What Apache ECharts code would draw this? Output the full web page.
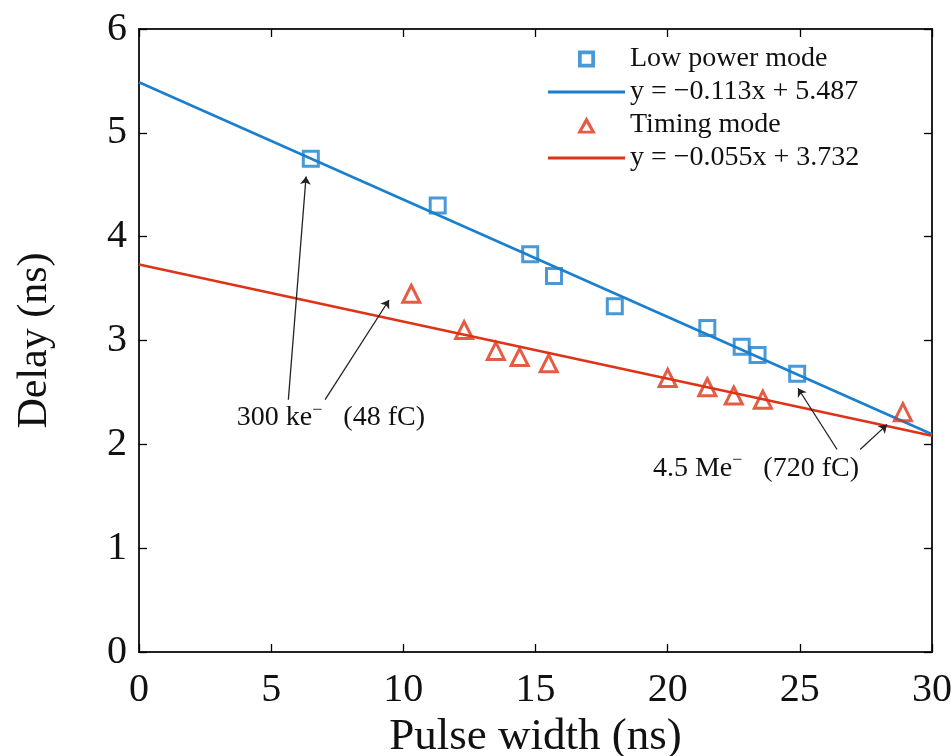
<!DOCTYPE html>
<html>
<head>
<meta charset="utf-8">
<script src="https://cdn.jsdelivr.net/npm/echarts@6/dist/echarts.min.js"></script>
<style>html,body{margin:0;padding:0;background:#fff}#c{width:951px;height:756px}</style>
</head>
<body>
<div id="c"></div>
<script>
// ---- data ----
var lowPowerX = [6.5, 11.3, 14.8, 15.7, 18.0, 21.5, 22.8, 23.4, 24.9];
var lowPowerY = [4.75, 4.30, 3.83, 3.62, 3.33, 3.12, 2.94, 2.86, 2.68];
var timingX = [10.3, 12.3, 13.5, 14.4, 15.5, 20.0, 21.5, 22.5, 23.6, 28.9];
var timingY = [3.45, 3.10, 2.90, 2.84, 2.78, 2.64, 2.55, 2.47, 2.43, 2.31];
var fitLowX = [0, 30];
var fitLowY = [5.487, 2.097];
var fitTimingX = [0, 30];
var fitTimingY = [3.732, 2.082];
var xTicks = [0, 5, 10, 15, 20, 25, 30];
var yTicks = [0, 1, 2, 3, 4, 5, 6];
var seriesNames = ['Low power mode', 'y = \u22120.113x + 5.487', 'Timing mode', 'y = \u22120.055x + 3.732'];
var annot1Text = {x: 7.26, y: 2.26};
var annot1Arrows = [[[5.65, 2.43], [6.32, 4.58]], [[7.04, 2.43], [9.46, 3.39]]];
var annot2Text = {x: 23.34, y: 1.77};
var annot2Arrows = [[[26.41, 1.95], [24.93, 2.54]], [[27.28, 1.95], [28.30, 2.19]]];

function zip(a, b) { return a.map(function (v, i) { return [v, b[i]]; }); }

var BLUE = '#1a7fcc';
var RED = '#de3316';
var FONT = 'Liberation Serif';
var TXT = '#111';

var ICON_SQUARE = 'path://M0,0 L10,0 L10,10 L0,10 Z M2.2,2.2 L2.2,7.8 L7.8,7.8 L7.8,2.2 Z';
var ICON_TRI = 'path://M5,0 L10,9 L0,9 Z M5,3.6 L2.7,7.6 L7.3,7.6 Z';
var ICON_LINE = 'path://M0,0 L100,0 L100,4 L0,4 Z';

var chart = echarts.init(document.getElementById('c'), null, {renderer: 'canvas'});

function tickStyle() { return {show: true, inside: true, length: 8, lineStyle: {color: '#000', width: 1.3}}; }
function axisLineStyle() { return {show: true, onZero: false, lineStyle: {color: '#222', width: 2}}; }

var option = {
  backgroundColor: '#fff',
  animation: false,
  grid: {left: 139, right: 19, top: 29, bottom: 104, outerBoundsMode: 'none', containLabel: false,
         show: true, borderColor: '#222', borderWidth: 2, backgroundColor: 'transparent'},
  xAxis: [{
    type: 'value', position: 'bottom', min: xTicks[0], max: xTicks[xTicks.length - 1], interval: 5,
    name: 'Pulse width (ns)', nameLocation: 'middle', nameGap: 61,
    nameTextStyle: {fontFamily: FONT, fontSize: 45, color: TXT},
    axisLine: axisLineStyle(),
    axisTick: tickStyle(),
    axisLabel: {fontFamily: FONT, fontSize: 40, color: TXT, margin: 18},
    splitLine: {show: false}
  }, {
    type: 'value', position: 'top', min: xTicks[0], max: xTicks[xTicks.length - 1], interval: 5,
    axisLine: axisLineStyle(), axisLabel: {show: false}, splitLine: {show: false},
    axisTick: tickStyle()
  }],
  yAxis: [{
    type: 'value', position: 'left', min: yTicks[0], max: yTicks[yTicks.length - 1], interval: 1,
    name: 'Delay (ns)', nameLocation: 'middle', nameGap: 83, nameRotate: 90,
    nameTextStyle: {fontFamily: FONT, fontSize: 42, color: TXT},
    axisLine: axisLineStyle(),
    axisTick: tickStyle(),
    axisLabel: {fontFamily: FONT, fontSize: 40, color: TXT, margin: 12, padding: [0, 0, 5, 0]},
    splitLine: {show: false}
  }, {
    type: 'value', position: 'right', min: yTicks[0], max: yTicks[yTicks.length - 1], interval: 1,
    axisLine: axisLineStyle(), axisLabel: {show: false}, splitLine: {show: false},
    axisTick: tickStyle()
  }],
  legend: {
    orient: 'vertical', left: 543, top: 40, itemGap: 5, itemWidth: 77, itemHeight: 17,
    symbolKeepAspect: true,
    textStyle: {fontFamily: FONT, fontSize: 28, lineHeight: 26, color: TXT},
    data: [
      {name: seriesNames[0], icon: ICON_SQUARE, itemStyle: {color: BLUE, borderWidth: 0}},
      {name: seriesNames[1], icon: ICON_LINE, itemStyle: {color: BLUE, borderWidth: 0}},
      {name: seriesNames[2], icon: ICON_TRI, itemStyle: {color: RED, borderWidth: 0}},
      {name: seriesNames[3], icon: ICON_LINE, itemStyle: {color: RED, borderWidth: 0}}
    ]
  },
  series: [
    {
      name: seriesNames[1], type: 'line', data: zip(fitLowX, fitLowY), symbol: 'none',
      lineStyle: {color: BLUE, width: 2.5}, itemStyle: {color: BLUE}, z: 2
    },
    {
      name: seriesNames[3], type: 'line', data: zip(fitTimingX, fitTimingY), symbol: 'none',
      lineStyle: {color: RED, width: 2.5}, itemStyle: {color: RED}, z: 2
    },
    {
      name: seriesNames[0], type: 'scatter', data: zip(lowPowerX, lowPowerY), symbol: 'rect', symbolSize: 15,
      itemStyle: {color: 'rgba(255,255,255,0)', borderColor: BLUE, borderWidth: 3}, z: 3
    },
    {
      name: seriesNames[2], type: 'scatter', data: zip(timingX, timingY), symbol: 'triangle', symbolSize: 17,
      itemStyle: {color: 'rgba(255,255,255,0)', borderColor: RED, borderWidth: 3}, z: 3
    },
    {
      type: 'lines', coordinateSystem: 'cartesian2d', z: 4, silent: true,
      symbol: ['none', 'arrow'], symbolSize: 8,
      lineStyle: {color: '#222', width: 1.3, opacity: 1},
      data: annot1Arrows.concat(annot2Arrows).map(function (a) { return {coords: a}; })
    },
    {
      type: 'scatter', xAxisIndex: 1, yAxisIndex: 1, symbolSize: 0, z: 5, silent: true,
      itemStyle: {opacity: 1},
      label: {
        show: true, position: 'inside', fontFamily: FONT, fontSize: 28, color: TXT, opacity: 1,
        formatter: function (p) { return p.data[2]; },
        rich: {sup: {fontFamily: FONT, fontSize: 18, color: TXT, verticalAlign: 'top', padding: [0, 0, 15, 0]}}
      },
      data: [
        [annot1Text.x, annot1Text.y, '300 ke{sup|\u2212}   (48 fC)'],
        [annot2Text.x, annot2Text.y, '4.5 Me{sup|\u2212}   (720 fC)']
      ]
    }
  ]
};
chart.setOption(option);
</script>
</body>
</html>
